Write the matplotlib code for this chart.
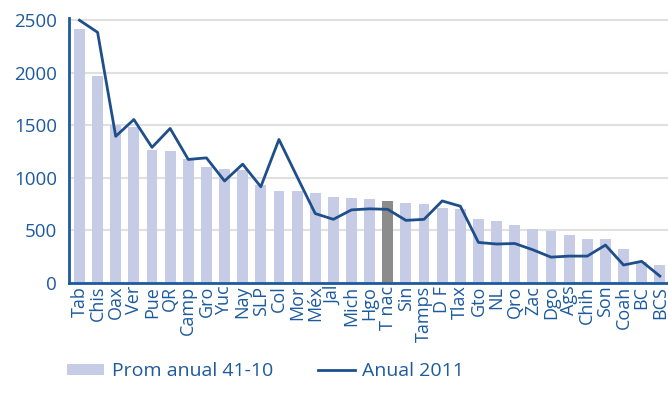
import numpy as np
import matplotlib
matplotlib.use('Agg')
import matplotlib.pyplot as plt
from matplotlib.patches import Patch
from matplotlib.lines import Line2D

plt.rcParams['font.family'] = ['Open Sans', 'DejaVu Sans']

# states, ordered by the 41-10 average
estados = ['Tab', 'Chis', 'Oax', 'Ver', 'Pue', 'QR', 'Camp', 'Gro', 'Yuc', 'Nay',
           'SLP', 'Col', 'Mor', 'Méx', 'Jal', 'Mich', 'Hgo', 'T nac', 'Sin', 'Tamps',
           'D F', 'Tlax', 'Gto', 'NL', 'Qro', 'Zac', 'Dgo', 'Ags', 'Chih', 'Son',
           'Coah', 'BC', 'BCS']
prom_41_10 = [2420, 1970, 1500, 1480, 1265, 1255, 1175, 1105, 1080, 1070,
              930, 875, 875, 860, 815, 810, 795, 780, 765, 755,
              715, 700, 605, 590, 550, 510, 495, 455, 415, 415,
              320, 200, 170]
anual_2011 = [2500, 2385, 1395, 1555, 1290, 1470, 1175, 1190, 970, 1130,
              915, 1365, 1010, 660, 605, 695, 705, 700, 595, 605,
              780, 730, 385, 370, 375, 315, 245, 255, 255, 360,
              170, 205, 65]

blue = '#1d5a9e'
line_col = '#1f4f8a'
bar_col = '#c6cbe6'

x = np.arange(len(estados))
colors = [bar_col] * len(estados)
colors[estados.index('T nac')] = '#8c8c8c'

fig = plt.figure(figsize=(6.68, 3.94), dpi=100)
ax = fig.add_axes([0.104, 0.282, 0.896, 0.672])

ax.bar(x, prom_41_10, width=0.6, color=colors, zorder=2)
ax.plot(x, anual_2011, color=line_col, lw=2, zorder=3)

ax.set_xlim(-0.55, 32.45)
ax.set_ylim(0, 2520)
ax.set_yticks([0, 500, 1000, 1500, 2000, 2500])
ax.set_xticks(x)
ax.set_xticklabels(estados, rotation=90, fontsize=13, color=blue)
ax.tick_params(axis='y', labelsize=13.5, labelcolor=blue, length=0, pad=9)
ax.tick_params(axis='x', length=0, pad=2)

ax.grid(axis='y', color='#e0e0e0', lw=1.5, zorder=0)
ax.set_axisbelow(True)
for s in ['top', 'right']:
    ax.spines[s].set_visible(False)
for s in ['left', 'bottom']:
    ax.spines[s].set_color(blue)
    ax.spines[s].set_linewidth(2)

handles = [Patch(facecolor=bar_col, edgecolor='none'),
           Line2D([0], [0], color=line_col, lw=2)]
leg = fig.legend(handles, ['Prom anual 41-10', 'Anual 2011'], loc='lower left',
                 bbox_to_anchor=(0.074, -0.01), ncol=2, frameon=False, fontsize=14,
                 handlelength=1.9, handleheight=0.5, columnspacing=2.3, handletextpad=0.4)
for t in leg.get_texts():
    t.set_color(blue)

fig.savefig('out.png', dpi=100)
